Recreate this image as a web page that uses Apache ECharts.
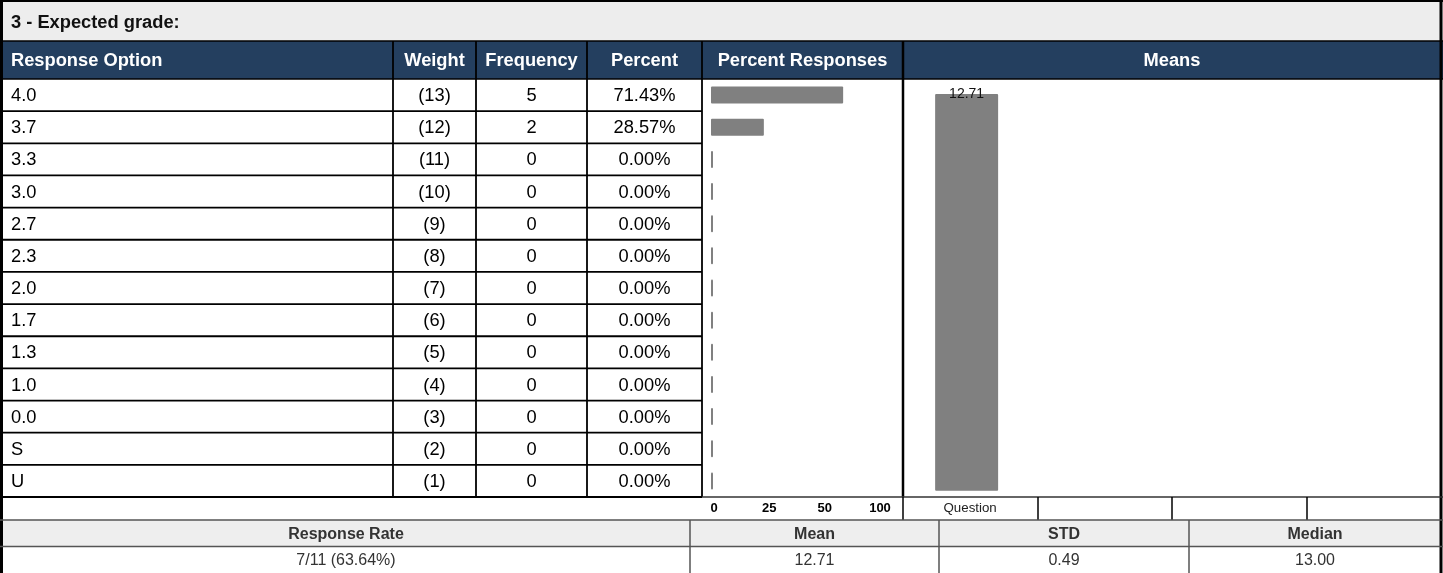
<!DOCTYPE html>
<html>
<head>
<meta charset="utf-8">
<script src="https://cdn.jsdelivr.net/npm/echarts@6/dist/echarts.min.js"></script>
<style>
html,body{margin:0;padding:0;background:#fff;}
#chart{width:1443px;height:573px;}
</style>
</head>
<body>
<div id="chart"></div>
<script>
// ---- Data ----
const title = '3 - Expected grade:';
const headers = ['Response Option', 'Weight', 'Frequency', 'Percent', 'Percent Responses', 'Means'];
const options = ['4.0', '3.7', '3.3', '3.0', '2.7', '2.3', '2.0', '1.7', '1.3', '1.0', '0.0', 'S', 'U'];
const weights = [13, 12, 11, 10, 9, 8, 7, 6, 5, 4, 3, 2, 1];
const frequencies = [5, 2, 0, 0, 0, 0, 0, 0, 0, 0, 0, 0, 0];
const percents = [71.43, 28.57, 0, 0, 0, 0, 0, 0, 0, 0, 0, 0, 0];
const percentTickLabels = ['0', '25', '50', '100'];
const meansCategories = ['Question', '', '', ''];
const meansValues = [12.71];
const summaryHeaders = ['Response Rate', 'Mean', 'STD', 'Median'];
const summaryValues = ['7/11 (63.64%)', '12.71', '0.49', '13.00'];

// ---- Layout ----
const FONT = '"Liberation Sans", Arial, sans-serif';
const colX = [2, 393, 476, 587, 702, 903, 1441];
const titleTop = 2, headerTop = 41, rowsTop = 79, rowsBottom = 497;
const rowH = (rowsBottom - rowsTop) / options.length;
const axisRowBottom = 520, sumHeadBottom = 546.5, sumBottom = 573;
const sumX = [2, 690, 939, 1189, 1441];
const qX = [903, 1038, 1172, 1307, 1441];
const NAVY = '#243f5f';

const g = [];
function rect(x, y, w, h, fill) {
  g.push({type: 'rect', shape: {x, y, width: w, height: h}, style: {fill}, silent: true, z: 0});
}
function line(x1, y1, x2, y2, stroke, lw) {
  g.push({type: 'line', shape: {x1, y1, x2, y2}, style: {stroke, lineWidth: lw}, silent: true, z: 5});
}
function text(t, x, y, opts) {
  g.push({type: 'text', x, y, silent: true, z: 6, style: Object.assign({
    text: t, font: '18.3px ' + FONT, fill: '#000', textAlign: 'left', textVerticalAlign: 'middle'
  }, opts || {})});
}

// backgrounds
rect(0, titleTop, 1443, headerTop - titleTop, '#ededed');
rect(0, headerTop, 1443, rowsTop - headerTop, NAVY);
rect(0, axisRowBottom, 1443, sumHeadBottom - axisRowBottom, '#eeeeee');

// title
text(title, 11, (titleTop + headerTop) / 2 + 1.5, {font: 'bold 18.3px ' + FONT, fill: '#111'});

// headers
headers.forEach((h, i) => {
  const cy = (headerTop + rowsTop) / 2 + 1;
  if (i === 0) text(h, 11, cy, {font: 'bold 18.3px ' + FONT, fill: '#fff'});
  else text(h, (colX[i] + colX[i + 1]) / 2, cy, {font: 'bold 18.3px ' + FONT, fill: '#fff', textAlign: 'center'});
});

// rows text
options.forEach((o, r) => {
  const cy = rowsTop + rowH * (r + 0.5) + 1;
  text(o, 11, cy);
  text('(' + weights[r] + ')', (colX[1] + colX[2]) / 2, cy, {textAlign: 'center'});
  text(String(frequencies[r]), (colX[2] + colX[3]) / 2, cy, {textAlign: 'center'});
  text(percents[r].toFixed(2) + '%', (colX[3] + colX[4]) / 2, cy, {textAlign: 'center'});
});

// summary
summaryHeaders.forEach((h, i) => {
  const cx = (sumX[i] + sumX[i + 1]) / 2;
  text(h, cx, (axisRowBottom + sumHeadBottom) / 2 + 1, {font: 'bold 16px ' + FONT, fill: '#333', textAlign: 'center'});
  text(summaryValues[i], cx, (sumHeadBottom + sumBottom) / 2 + 1, {font: '16px ' + FONT, fill: '#333', textAlign: 'center'});
});

// grid lines of table
line(1.5, 0, 1.5, 573, '#000', 3);
line(1441, 0, 1441, 573, '#000', 3);
line(0, 1, 1443, 1, '#000', 2);
line(0, headerTop, 1443, headerTop, '#000', 1.5);
line(0, rowsTop, 1443, rowsTop, '#000', 1.5);
for (let r = 1; r <= options.length; r++) {
  const y = rowsTop + rowH * r;
  line(colX[0], y, colX[4], y, '#000', 1.8);
}
for (let i = 1; i <= 4; i++) line(colX[i], headerTop, colX[i], rowsBottom, '#000', 1.8);
line(colX[5], headerTop, colX[5], rowsBottom, '#000', 2.5);
line(colX[4], rowsBottom, 1443, rowsBottom, '#333', 1.5);
for (let i = 0; i < qX.length - 1; i++) line(qX[i], rowsBottom, qX[i], axisRowBottom, '#000', 1.5);
line(0, axisRowBottom, 1443, axisRowBottom, '#555', 1.5);
line(0, sumHeadBottom, 1443, sumHeadBottom, '#555', 1.5);
for (let i = 1; i < sumX.length - 1; i++) line(sumX[i], axisRowBottom, sumX[i], sumBottom, '#555', 1.5);

const chart = echarts.init(document.getElementById('chart'), null, {renderer: 'canvas'});
chart.setOption({
  animation: false,
  backgroundColor: '#fff',
  graphic: {elements: g},
  grid: [
    {left: 711, top: rowsTop, width: 185, height: rowsBottom - rowsTop},
    {left: 714, top: 496, width: 166, height: 1},
    {left: 899.5, top: 85, width: 537, height: 405.7}
  ],
  xAxis: [
    {gridIndex: 0, type: 'value', min: 0, max: 100, show: false},
    {gridIndex: 1, type: 'category', data: percentTickLabels, boundaryGap: false,
      axisLine: {show: false}, axisTick: {show: false}, splitLine: {show: false},
      axisLabel: {margin: 5, interval: 0, color: '#000', fontFamily: FONT, fontSize: 13, fontWeight: 'bold'}},
    {gridIndex: 2, type: 'category', data: meansCategories,
      axisLine: {show: false}, axisTick: {show: false}, splitLine: {show: false},
      axisLabel: {margin: 11, interval: 0, color: '#222', fontFamily: FONT, fontSize: 13.3, padding: [0, 0, 0, 7]}}
  ],
  yAxis: [
    {gridIndex: 0, type: 'category', data: options, inverse: true, show: false},
    {gridIndex: 1, type: 'value', show: false},
    {gridIndex: 2, type: 'value', min: 0, max: 13, show: false}
  ],
  series: [
    {type: 'bar', xAxisIndex: 0, yAxisIndex: 0, data: percents, barWidth: 17, barMinHeight: 2,
      itemStyle: {color: '#808080', borderRadius: 1}, silent: true},
    {type: 'bar', xAxisIndex: 2, yAxisIndex: 2, data: meansValues, barWidth: 63,
      itemStyle: {color: '#808080', borderRadius: 1}, silent: true,
      label: {show: true, position: 'top', distance: -7, color: '#111', fontFamily: FONT, fontSize: 14}}
  ]
});
</script>
</body>
</html>
